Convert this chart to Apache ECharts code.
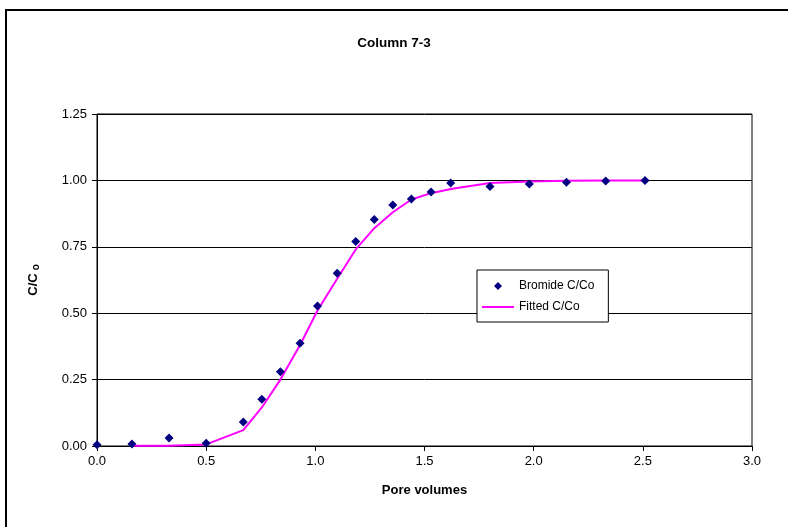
<!DOCTYPE html>
<html>
<head>
<meta charset="utf-8">
<script src="https://cdn.jsdelivr.net/npm/echarts@6/dist/echarts.min.js"></script>
<style>
  html, body { margin: 0; padding: 0; background: #fff; }
  #chart { width: 788px; height: 527px; }
</style>
</head>
<body>
<div id="chart"></div>
<script>
// pore volumes of the samples
const poreVolumes = [0.00, 0.16, 0.33, 0.50, 0.67, 0.755, 0.84, 0.93, 1.01, 1.10, 1.185,
  1.27, 1.355, 1.44, 1.53, 1.62, 1.80, 1.98, 2.15, 2.33, 2.51]
// measured bromide C/Co
const bromide = [0.005, 0.008, 0.03, 0.01, 0.09, 0.176, 0.28, 0.387, 0.527, 0.65, 0.77,
  0.853, 0.907, 0.93, 0.956, 0.99, 0.977, 0.986, 0.993, 0.998, 1.00]
// fitted curve (starts at the second sample)
const fitted = [null, 0.0005, 0.001, 0.006, 0.06, 0.145, 0.25, 0.38, 0.51, 0.63, 0.74,
  0.82, 0.88, 0.928, 0.952, 0.968, 0.99, 0.996, 0.999, 1.0, 1.0]
const yTicks = [0, 0.25, 0.5, 0.75, 1.0, 1.25]
const xTicks = [0, 0.5, 1.0, 1.5, 2.0, 2.5, 3.0]

const pairs = (ys) => poreVolumes.map((x, i) => [x, ys[i]]).filter(p => p[1] !== null)

const chart = echarts.init(document.getElementById('chart'))
const font = 'Liberation Sans, Arial, sans-serif'

chart.setOption({
  animation: false,
  backgroundColor: '#fff',
  textStyle: { fontFamily: font },
  title: {
    text: 'Column 7-3',
    left: 'center',
    top: 31,
    textStyle: { fontSize: 13.5, fontWeight: 'bold', color: '#000', fontFamily: font }
  },
  graphic: [{
    type: 'rect',
    shape: { x: 6, y: 10, width: 800, height: 540 },
    style: { fill: 'none', stroke: '#000', lineWidth: 2 },
    silent: true
  }],
  legend: {
    orient: 'vertical',
    left: 477,
    top: 270,
    itemGap: 9,
    itemWidth: 32,
    itemHeight: 8,
    symbolKeepAspect: true,
    padding: [10, 14, 9, 5],
    borderColor: '#000',
    borderWidth: 1,
    backgroundColor: '#fff',
    textStyle: { fontSize: 12, color: '#000', fontFamily: font },
    data: [
      { name: 'Bromide C/Co', icon: 'path://M4,0L8,4L4,8L0,4Z', itemStyle: { color: '#000080', opacity: 1 } },
      { name: 'Fitted C/Co', icon: 'path://M0,0h32v2h-32z', itemStyle: { color: '#ff00ff' } }
    ]
  },
  grid: { left: 97, right: 36, top: 114, bottom: 81, show: true, borderColor: '#000', borderWidth: 1 },
  xAxis: {
    type: 'value',
    min: xTicks[0],
    max: xTicks[xTicks.length - 1],
    interval: 0.5,
    name: 'Pore volumes',
    nameLocation: 'middle',
    nameGap: 38,
    nameTextStyle: { fontSize: 13, fontWeight: 'bold', color: '#000', fontFamily: font },
    axisLine: { lineStyle: { color: '#000', width: 1 } },
    axisTick: { length: 5, lineStyle: { color: '#000' } },
    axisLabel: { fontSize: 13, color: '#000', margin: 9, formatter: v => v.toFixed(1) },
    splitLine: { show: false }
  },
  yAxis: {
    type: 'value',
    min: yTicks[0],
    max: yTicks[yTicks.length - 1],
    interval: 0.25,
    name: '{a|C/C}{s|o}',
    nameLocation: 'middle',
    nameGap: 56,
    nameTextStyle: {
      color: '#000',
      rich: {
        a: { fontSize: 13, fontWeight: 'bold', fontFamily: font, color: '#000' },
        s: { fontSize: 10, fontWeight: 'bold', fontFamily: font, color: '#000', verticalAlign: 'bottom', padding: [6, 0, 0, 3] }
      }
    },
    axisLine: { lineStyle: { color: '#000', width: 1 } },
    axisTick: { length: 5, lineStyle: { color: '#000' } },
    axisLabel: { fontSize: 13, color: '#000', margin: 10, formatter: v => v.toFixed(2) },
    splitLine: { lineStyle: { color: '#000', width: 1 } }
  },
  series: [
    {
      name: 'Fitted C/Co',
      type: 'line',
      data: pairs(fitted),
      showSymbol: false,
      symbol: 'none',
      lineStyle: { color: '#ff00ff', width: 2 },
      itemStyle: { color: '#ff00ff' },
      z: 2
    },
    {
      name: 'Bromide C/Co',
      type: 'scatter',
      data: pairs(bromide),
      symbol: 'diamond',
      symbolSize: 9,
      itemStyle: { color: '#000080', opacity: 1 },
      z: 3
    }
  ]
})
</script>
</body>
</html>
